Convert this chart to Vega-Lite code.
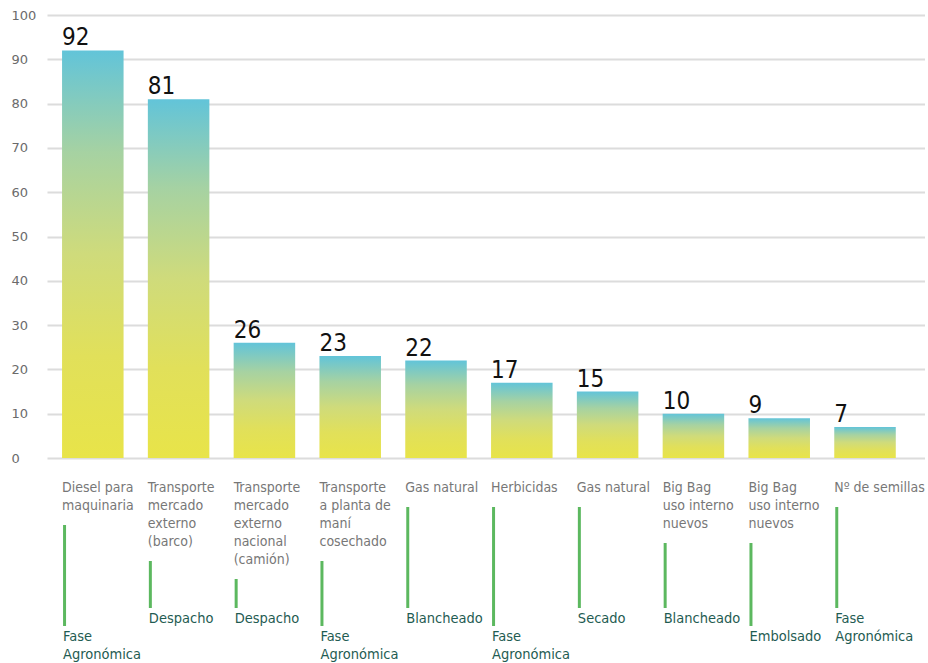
{
  "$schema": "https://vega.github.io/schema/vega-lite/v6.json",
  "padding": {"left": 11, "top": 9, "right": 0, "bottom": 0},
  "spacing": 0,
  "background": "white",
  "config": {"view": {"stroke": null}, "font": "DejaVu Sans Condensed, Roboto, sans-serif"},
  "data": {
    "values": [
      {"item": "Diesel para maquinaria", "label": ["Diesel para", "maquinaria"], "value": 92, "phase": ["Fase", "Agronómica"], "lines": 2, "tier": 8},
      {"item": "Transporte mercado externo (barco)", "label": ["Transporte", "mercado", "externo", "(barco)"], "value": 81, "phase": ["Despacho"], "lines": 4, "tier": 7},
      {"item": "Transporte mercado externo nacional (camión)", "label": ["Transporte", "mercado", "externo", "nacional", "(camión)"], "value": 26, "phase": ["Despacho"], "lines": 5, "tier": 7},
      {"item": "Transporte a planta de maní cosechado", "label": ["Transporte", "a planta de", "maní", "cosechado"], "value": 23, "phase": ["Fase", "Agronómica"], "lines": 4, "tier": 8},
      {"item": "Gas natural (Blancheado)", "label": ["Gas natural"], "value": 22, "phase": ["Blancheado"], "lines": 1, "tier": 7},
      {"item": "Herbicidas", "label": ["Herbicidas"], "value": 17, "phase": ["Fase", "Agronómica"], "lines": 1, "tier": 8},
      {"item": "Gas natural (Secado)", "label": ["Gas natural"], "value": 15, "phase": ["Secado"], "lines": 1, "tier": 7},
      {"item": "Big Bag uso interno nuevos (Blancheado)", "label": ["Big Bag", "uso interno", "nuevos"], "value": 10, "phase": ["Blancheado"], "lines": 3, "tier": 7},
      {"item": "Big Bag uso interno nuevos (Embolsado)", "label": ["Big Bag", "uso interno", "nuevos"], "value": 9, "phase": ["Embolsado"], "lines": 3, "tier": 8},
      {"item": "Nº de semillas", "label": ["Nº de semillas"], "value": 7, "phase": ["Fase", "Agronómica"], "lines": 1, "tier": 7}
    ]
  },
  "vconcat": [
    {
      "width": 878,
      "height": 443,
      "layer": [
        {
          "mark": {
            "type": "bar",
            "color": {
              "gradient": "linear",
              "x1": 0, "y1": 1, "x2": 0, "y2": 0,
              "stops": [
                {"offset": 0, "color": "#e8e449"},
                {"offset": 0.25, "color": "#e1e05a"},
                {"offset": 0.5, "color": "#cfdb7b"},
                {"offset": 0.75, "color": "#a6d2a2"},
                {"offset": 1, "color": "#62c4d9"}
              ]
            }
          },
          "encoding": {
            "x": {"field": "item", "type": "nominal", "sort": null, "scale": {"paddingInner": 0.283, "paddingOuter": 0.258, "align": 0.34}, "axis": null},
            "y": {
              "field": "value", "type": "quantitative",
              "scale": {"domain": [0, 100]},
              "axis": {
                "values": [0, 10, 20, 30, 40, 50, 60, 70, 80, 90, 100],
                "title": null, "domain": false, "ticks": false, "tickSize": 0,
                "labelAlign": "left", "labelPadding": 36,
                "labelFont": "DejaVu Sans", "labelFontSize": 13, "labelColor": "#6b6b6b",
                "gridColor": "#dcdcdc", "gridWidth": 2
              }
            }
          }
        },
        {
          "mark": {"type": "text", "align": "left", "baseline": "alphabetic", "dy": -5, "fontSize": 24, "font": "DejaVu Sans Condensed, Roboto, sans-serif", "color": "#111111"},
          "encoding": {
            "x": {"field": "item", "type": "nominal", "sort": null, "bandPosition": 0},
            "y": {"field": "value", "type": "quantitative"},
            "text": {"field": "value", "type": "quantitative"}
          }
        }
      ]
    },
    {
      "width": 878,
      "height": 198,
      "layer": [
        {
          "mark": {"type": "text", "align": "left", "baseline": "top", "lineHeight": 18, "dy": -2, "fontSize": 14, "font": "DejaVu Sans Condensed, Roboto, sans-serif", "color": "#777777"},
          "encoding": {
            "x": {"field": "item", "type": "nominal", "sort": null, "bandPosition": 0, "scale": {"paddingInner": 0.283, "paddingOuter": 0.258, "align": 0.34}, "axis": null},
            "y": {"datum": 0, "type": "quantitative", "scale": {"domain": [-1, 10], "reverse": true}, "axis": null},
            "text": {"field": "label", "type": "nominal"}
          }
        },
        {
          "mark": {"type": "rule", "strokeWidth": 3, "color": "#5cb85f", "xOffset": 2.5, "yOffset": 6, "y2Offset": -1},
          "encoding": {
            "x": {"field": "item", "type": "nominal", "sort": null, "bandPosition": 0},
            "y": {"field": "lines", "type": "quantitative"},
            "y2": {"field": "tier"}
          }
        },
        {
          "mark": {"type": "text", "align": "left", "baseline": "top", "dy": 3, "dx": 1, "lineHeight": 18, "fontSize": 14.5, "font": "DejaVu Sans Condensed, Roboto, sans-serif", "color": "#1f5c52"},
          "encoding": {
            "x": {"field": "item", "type": "nominal", "sort": null, "bandPosition": 0},
            "y": {"field": "tier", "type": "quantitative"},
            "text": {"field": "phase", "type": "nominal"}
          }
        }
      ]
    }
  ]
}
